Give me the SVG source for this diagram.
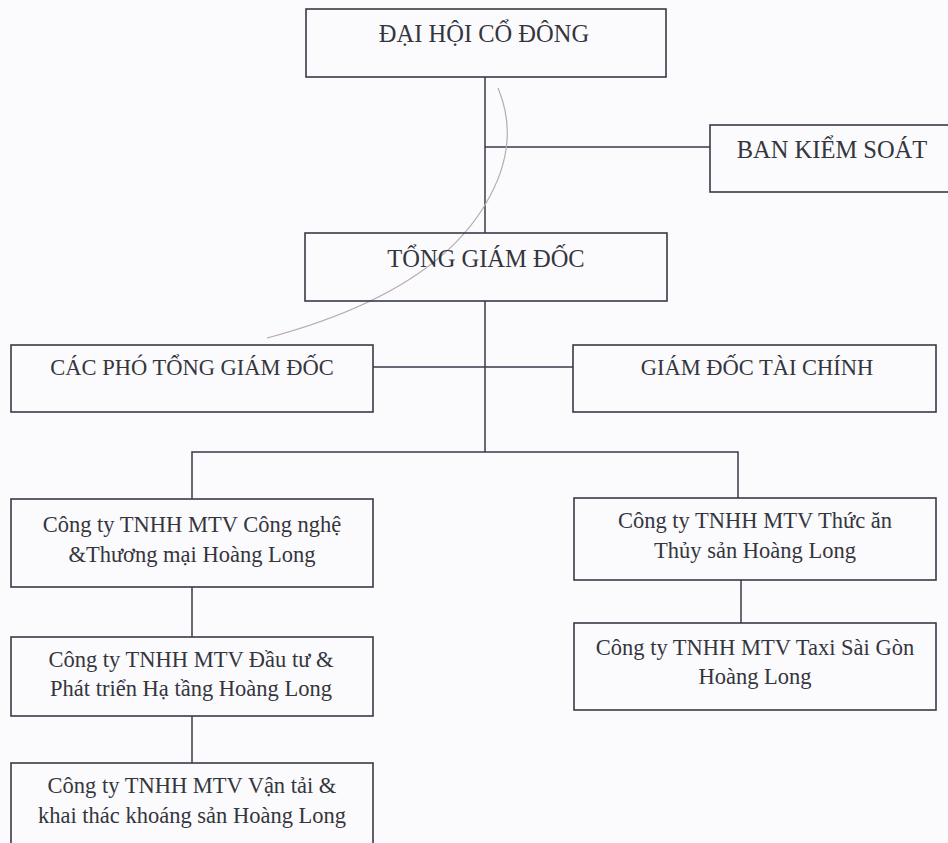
<svg xmlns="http://www.w3.org/2000/svg" width="948" height="843" viewBox="0 0 948 843">
<style>
.box{fill:none;stroke:#3a3a48;stroke-width:1.6}
.ln{fill:none;stroke:#3a3a48;stroke-width:1.5}
text{font-family:"Liberation Serif","Times New Roman",serif;font-size:22.5px;fill:#35353d;text-anchor:middle}
text.big{font-size:24.5px}
</style>
<rect width="948" height="843" fill="#fbfbfd"/>
<g id="connectors">
<line class="ln" x1="485" y1="77" x2="485" y2="233"/>
<line class="ln" x1="485" y1="147" x2="710" y2="147"/>
<line class="ln" x1="485" y1="301" x2="485" y2="452"/>
<line class="ln" x1="373" y1="367" x2="573" y2="367"/>
<polyline class="ln" points="192,499 192,452 738,452 738,498"/>
<line class="ln" x1="192" y1="587" x2="192" y2="637"/>
<line class="ln" x1="192" y1="716" x2="192" y2="763"/>
<line class="ln" x1="741" y1="580" x2="741" y2="623"/>
</g>
<path d="M498,88 Q520,140 490,196 Q440,292 267,338" fill="none" stroke="#b9aab4" stroke-width="1.2"/>
<g id="dhcd"><rect class="box" x="306" y="9" width="360" height="68"/><text class="big" x="484" y="42">ĐẠI HỘI CỔ ĐÔNG</text></g>
<g id="bks"><rect class="box" x="710" y="125" width="240" height="67"/><text class="big" x="832" y="158">BAN KIỂM SOÁT</text></g>
<g id="tgd"><rect class="box" x="305" y="233" width="362" height="68"/><text class="big" x="486" y="267">TỔNG GIÁM ĐỐC</text></g>
<g id="cptgd"><rect class="box" x="11" y="345" width="362" height="67"/><text x="192" y="375">CÁC PHÓ TỔNG GIÁM ĐỐC</text></g>
<g id="gdtc"><rect class="box" x="573" y="345" width="363" height="67"/><text x="757" y="375">GIÁM ĐỐC TÀI CHÍNH</text></g>
<g id="ct1"><rect class="box" x="11" y="499" width="362" height="88"/><text x="192" y="532">Công ty TNHH MTV Công nghệ</text><text x="192" y="562">&amp;Thương mại Hoàng Long</text></g>
<g id="ct2"><rect class="box" x="11" y="637" width="362" height="79"/><text x="191" y="667">Công ty TNHH MTV Đầu tư &amp;</text><text x="191" y="696">Phát triển Hạ tầng Hoàng Long</text></g>
<g id="ct3"><rect class="box" x="11" y="763" width="362" height="90"/><text x="192" y="793">Công ty TNHH MTV Vận tải &amp;</text><text x="192" y="823">khai thác khoáng sản Hoàng Long</text></g>
<g id="ct4"><rect class="box" x="574" y="498" width="362" height="82"/><text x="755" y="528">Công ty TNHH MTV Thức ăn</text><text x="755" y="558">Thủy sản Hoàng Long</text></g>
<g id="ct5"><rect class="box" x="574" y="623" width="362" height="87"/><text x="755" y="655">Công ty TNHH MTV Taxi Sài Gòn</text><text x="755" y="684">Hoàng Long</text></g>
</svg>
